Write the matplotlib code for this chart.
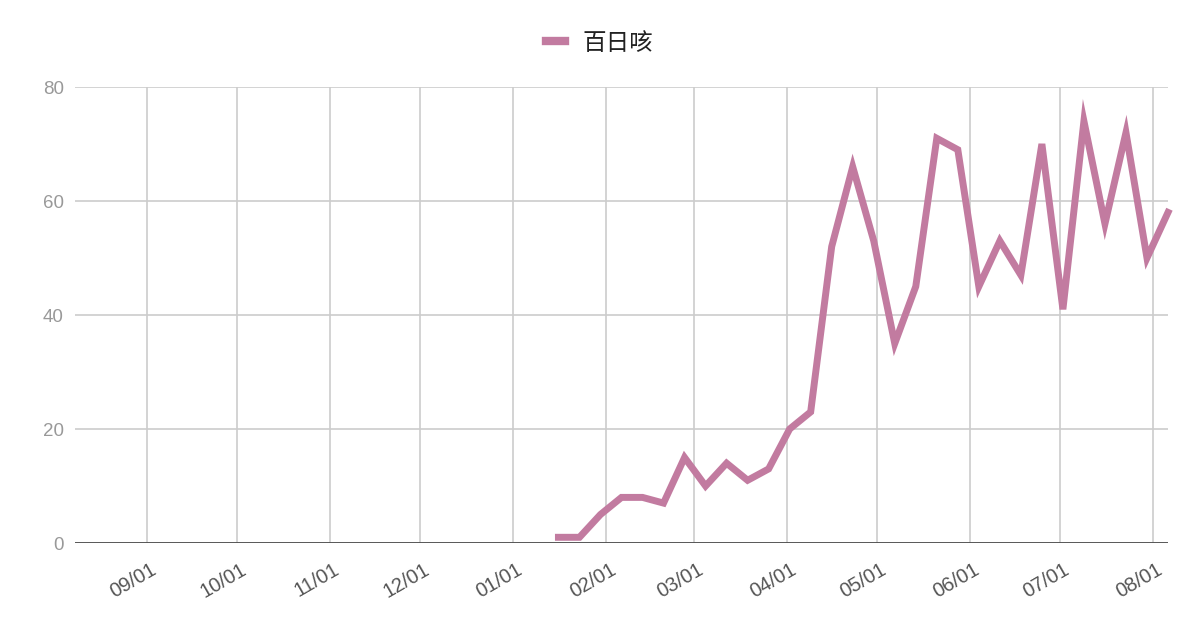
import matplotlib
matplotlib.use("Agg")
import matplotlib.pyplot as plt
import matplotlib.transforms as mtransforms
import pandas as pd

plt.rcParams['font.family'] = ['Liberation Sans', 'Noto Sans CJK SC', 'DejaVu Sans']

series_name = "百日咳"
start_date = "2024-01-16"
values = [1, 1, 5, 8, 8, 7, 15, 10, 14, 11, 13, 20, 23, 52, 66, 53, 35, 45,
          71, 69, 45, 53, 47, 70, 41, 74, 56, 72, 50, 58]
dates = pd.date_range(start_date, periods=len(values), freq="7D")

x_min = pd.Timestamp("2023-08-08")
x_max = pd.Timestamp("2024-08-06")
tick_dates = pd.date_range("2023-09-01", "2024-08-01", freq="MS")
tick_labels = [d.strftime("%m/%d") for d in tick_dates]
y_ticks = [0, 20, 40, 60, 80]

fig = plt.figure(figsize=(12, 6.26), dpi=100)
ax = fig.add_axes([75/1200, (626-543)/626, (1168-75)/1200, (543-87)/626])

line_color = "#C27BA0"
ax.plot(dates, values, color=line_color, lw=5.0, solid_joinstyle="miter",
        label=series_name, zorder=3, clip_on=False)

ax.set_xlim(x_min, x_max)
ax.set_ylim(0, 80)
ax.set_yticks(y_ticks)
ax.set_xticks(tick_dates)
ax.set_xticklabels(tick_labels, rotation=30, ha="right", va="center",
                   rotation_mode="anchor", fontsize=14.5, color="#555555")
ax.tick_params(axis="x", length=0, pad=0)
ax.tick_params(axis="y", length=0, pad=8, labelsize=13.5, labelcolor="#999999")

offset = mtransforms.ScaledTranslation(8/100, -25/100, fig.dpi_scale_trans)
for lbl in ax.get_xticklabels():
    lbl.set_transform(lbl.get_transform() + offset)

ax.grid(True, color="#cccccc", lw=1.2, zorder=0)
ax.set_axisbelow(True)
for s in ax.spines.values():
    s.set_visible(False)
ax.axhline(0, color="#333333", lw=1.8, zorder=2)

leg = fig.legend(loc="center", bbox_to_anchor=(0.5, 1 - 43/626), frameon=False,
                 handlelength=0.8, handletextpad=0.75,
                 prop={"family": ["Noto Sans CJK SC", "DejaVu Sans"], "size": 17})
for t in leg.get_texts():
    t.set_color("#222222")
for h in leg.get_lines():
    h.set_linewidth(6)

fig.savefig("out.png", dpi=100, facecolor="white")
